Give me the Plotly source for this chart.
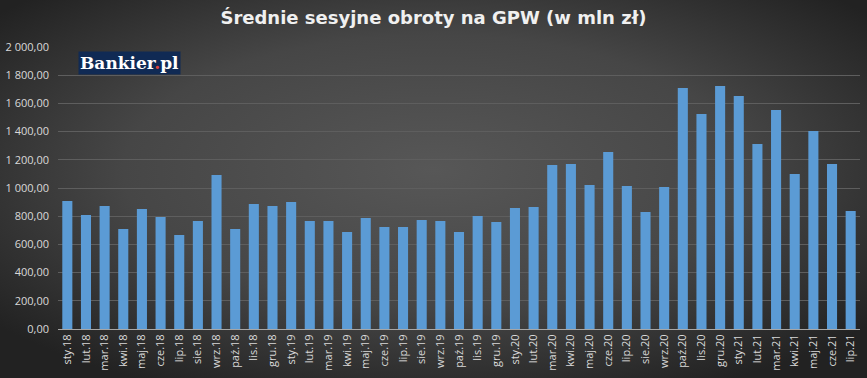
import base64
import plotly.graph_objects as go

categories = ["sty.18", "lut.18", "mar.18", "kwi.18", "maj.18", "cze.18", "lip.18", "sie.18",
              "wrz.18", "paź.18", "lis.18", "gru.18",
              "sty.19", "lut.19", "mar.19", "kwi.19", "maj.19", "cze.19", "lip.19", "sie.19",
              "wrz.19", "paź.19", "lis.19", "gru.19",
              "sty.20", "lut.20", "mar.20", "kwi.20", "maj.20", "cze.20", "lip.20", "sie.20",
              "wrz.20", "paź.20", "lis.20", "gru.20",
              "sty.21", "lut.21", "mar.21", "kwi.21", "maj.21", "cze.21", "lip.21"]

values = [908, 809, 872, 709, 851, 794, 667, 766, 1092, 709, 887, 872,
          901, 766, 766, 688, 787, 723, 723, 773, 766, 688, 801, 759,
          858, 865, 1163, 1170, 1021, 1255, 1014, 830, 1007, 1709, 1525, 1723,
          1652, 1312, 1553, 1099, 1404, 1170, 837]

y_tickvals = [0, 200, 400, 600, 800, 1000, 1200, 1400, 1600, 1800, 2000]
y_ticktext = ["0,00", "200,00", "400,00", "600,00", "800,00", "1 000,00", "1 200,00",
              "1 400,00", "1 600,00", "1 800,00", "2 000,00"]

title_text = "Średnie sesyjne obroty na GPW (w mln zł)"

W, H = 867, 378
ML, MR, MT, MB = 58, 7, 47, 49
pw, ph = W - ML - MR, H - MT - MB

svg = f'''<svg xmlns="http://www.w3.org/2000/svg" width="{W}" height="{H}" viewBox="0 0 {W} {H}" preserveAspectRatio="none">
<defs><radialGradient id="g" cx="50%" cy="45%" r="65%" gradientUnits="objectBoundingBox">
<stop offset="0%" stop-color="#575757"/><stop offset="55%" stop-color="#464646"/><stop offset="100%" stop-color="#222222"/>
</radialGradient></defs><rect x="0" y="0" width="{W}" height="{H}" fill="url(#g)"/></svg>'''
svg_uri = "data:image/svg+xml;base64," + base64.b64encode(svg.encode()).decode()

fig = go.Figure()
fig.add_trace(go.Bar(
    x=categories, y=values,
    marker=dict(color="#5b9bd5", line=dict(width=0)),
    hoverinfo="x+y",
))

fig.update_layout(
    width=W, height=H,
    margin=dict(l=ML, r=MR, t=MT, b=MB, autoexpand=False),
    paper_bgcolor="#2b2b2b",
    plot_bgcolor="rgba(0,0,0,0)",
    bargap=0.46,
    showlegend=False,
    title=dict(text="<b>" + title_text + "</b>", x=0.5, xref="container", xanchor="center",
               y=1 - 18 / H, yanchor="middle", yref="container",
               font=dict(family="DejaVu Sans", size=18, color="#f0f0f0")),
    images=[dict(source=svg_uri, xref="paper", yref="paper",
                 x=-ML / pw, y=1 + MT / ph, sizex=W / pw, sizey=H / ph,
                 xanchor="left", yanchor="top", sizing="stretch", layer="below")],
    annotations=[dict(
        text='Bankier<span style="color:#e0443a">.</span>pl',
        xref="paper", yref="paper", x=(78 - ML) / pw, y=1 - (51 - MT) / ph,
        xanchor="left", yanchor="top", showarrow=False,
        bgcolor="#102a54", borderpad=1,
        font=dict(family="DejaVu Serif", size=17, color="#ffffff", weight="bold"),
    )],
)

fig.update_xaxes(
    type="category",
    tickangle=-90,
    tickfont=dict(family="Open Sans", size=11, color="#d9d9d9"),
    showgrid=False,
    showline=True, linecolor="#a6a6a6", linewidth=1,
    ticks="", automargin=False,
)
fig.update_yaxes(
    range=[0, 2000],
    tickvals=y_tickvals, ticktext=y_ticktext,
    tickfont=dict(family="Open Sans", size=11, color="#d9d9d9"),
    showgrid=True, gridcolor="#5e5e5e", gridwidth=1,
    zeroline=False, showline=False, ticks="", automargin=False,
    ticklabelstandoff=8,
)

fig.write_html("out.html", config={"displayModeBar": False},
               post_script="document.body.style.margin='0';")
